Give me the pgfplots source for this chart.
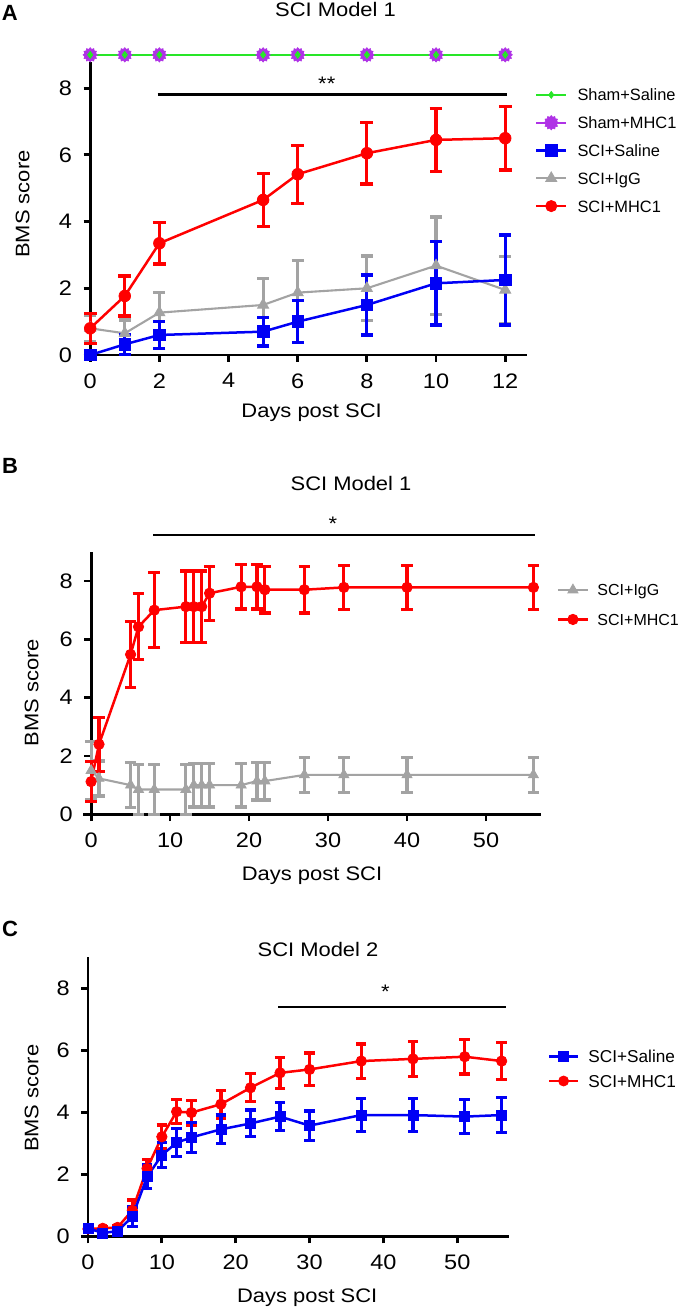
\documentclass[border=0pt]{standalone}
\usepackage{fontspec}
\setmainfont{Liberation Sans}[FakeStretch=1.12]
\newfontfamily\legfont{Liberation Sans}
\newfontfamily\letfont{Liberation Sans}
\usepackage{pgfplots}
\pgfplotsset{compat=1.18}
\usepackage{pgfplotstable}
\usetikzlibrary{plotmarks}

\definecolor{cred}{RGB}{255,0,0}
\definecolor{cblue}{RGB}{0,0,245}
\definecolor{cgray}{RGB}{163,163,163}
\definecolor{cgreen}{RGB}{40,230,40}
\definecolor{cpurple}{RGB}{175,50,230}

\pgfdeclareplotmark{burst}{%
  \pgfpathmoveto{\pgfpointpolar{0}{\pgfplotmarksize}}%
  \foreach \a in {1,...,23}{%
    \pgfmathsetmacro\rr{mod(\a,2)==0 ? 1 : 0.78}%
    \pgfpathlineto{\pgfpointpolar{\a*15}{\rr*\pgfplotmarksize}}%
  }%
  \pgfpathclose\pgfusepathqfillstroke}

% ---------- Panel A data ----------
\pgfplotstableread{
x y e
0 9 0
1 9 0
2 9 0
5 9 0
6 9 0
8 9 0
10 9 0
12 9 0
}\Asham
\pgfplotstableread{
x y e
0 0.80 0.45
1 1.77 0.60
2 3.35 0.62
5 4.65 0.80
6 5.42 0.87
8 6.05 0.92
10 6.45 0.95
12 6.50 0.95
}\Amhc
\pgfplotstableread{
x y e
0 0.00 0.00
1 0.32 0.30
2 0.60 0.40
5 0.70 0.43
6 1.00 0.63
8 1.50 0.90
10 2.15 1.25
12 2.25 1.35
}\Asal
\pgfplotstableread{
x y e
0 0.80 0.40
1 0.65 0.40
2 1.27 0.60
5 1.50 0.80
6 1.87 0.97
8 2.00 0.97
10 2.68 1.46
12 1.95 1.00
}\Aigg
% ---------- Panel B data ----------
\pgfplotstableread{
x y e
0 1.12 0.68
1 2.40 0.93
5 5.48 1.12
6 6.43 1.13
8 7.00 1.28
12 7.12 1.22
13 7.12 1.22
14 7.12 1.22
15 7.58 0.93
19 7.80 0.76
21 7.80 0.76
22 7.70 0.80
27 7.70 0.80
32 7.78 0.76
40 7.78 0.76
56 7.78 0.76
}\Bmhc
\pgfplotstableread{
x y e
0 1.50 1.00
1 1.23 0.60
5 1.00 0.78
6 0.85 0.85
8 0.85 0.85
12 0.85 0.85
13 1.00 0.75
14 1.00 0.75
15 1.00 0.75
19 1.00 0.75
21 1.14 0.65
22 1.14 0.65
27 1.35 0.60
32 1.35 0.60
40 1.35 0.60
56 1.35 0.60
}\Bigg
% ---------- Panel C data ----------
\pgfplotstableread{
x y e
0 0.25 0.05
2 0.27 0.05
4 0.30 0.05
6 0.85 0.33
8 2.20 0.30
10 3.22 0.38
12 4.03 0.38
14 4.00 0.40
18 4.27 0.45
22 4.80 0.45
26 5.28 0.50
30 5.39 0.53
37 5.66 0.55
44 5.73 0.56
51 5.80 0.56
56 5.66 0.60
}\Cmhc
\pgfplotstableread{
x y e
0 0.27 0.05
2 0.12 0.05
4 0.18 0.05
6 0.64 0.32
8 1.93 0.38
10 2.63 0.41
12 3.03 0.45
14 3.20 0.48
18 3.46 0.46
22 3.65 0.43
26 3.87 0.45
30 3.58 0.47
37 3.92 0.54
44 3.92 0.54
51 3.87 0.55
56 3.92 0.56
}\Csal

\pgfplotsset{
  bms/.style={
    scale only axis, anchor=south west,
    axis x line*=bottom, axis y line*=left,
    axis line style={line width=1.4pt, black},
    tick style={line width=1.4pt, black},
    major tick length=3.35pt, tick align=outside,
    ymin=0, clip=false,
    tick label style={font=\fontsize{10.5}{12}\selectfont},
    /pgf/number format/assume math mode=true,
    xticklabel style={yshift=-2.3pt},
    yticklabel style={xshift=-2.3pt},
    legend cell align=left,
  },
  ebar/.style={/pgfplots/error bars/y dir=both, /pgfplots/error bars/y explicit,
    /pgfplots/error bars/error bar style={line width=1.6pt, solid},
    /pgfplots/error bars/error mark=-,
    /pgfplots/error bars/error mark options={rotate=90, line width=1.6pt, mark size=#1, solid}},
  redS/.style={color=cred, line width=1.25pt, mark=*, mark size=#1, mark options={solid, fill=cred, line width=0.4pt}},
  blueS/.style={color=cblue, line width=1.25pt, mark=square*, mark size=#1, mark options={solid, fill=cblue, line width=0.4pt}},
  grayS/.style={color=cgray, line width=1.05pt, mark=triangle*, mark size=#1, mark options={solid, fill=cgray, line width=0.4pt}},
  greenS/.style={color=cgreen, line width=0.9pt, mark=diamond*, mark size=1.7pt, mark options={solid, fill=cgreen, line width=0.4pt}},
  purpS/.style={color=cpurple, line width=0.9pt, mark=burst, mark size=3.6pt, mark options={solid, fill=cpurple, line width=0.3pt}},
}

\newcommand{\mainsize}{\fontsize{9.8}{11}\selectfont}

\begin{document}
\begin{tikzpicture}
\path[use as bounding box] (0pt,0pt) rectangle (338.5pt,-654.5pt);

% ================= Panel A =================
\begin{axis}[bms, at={(45.1pt,-177.5pt)}, width=218.4pt, height=146.75pt,
  xmin=0, xmax=12.63, ymax=8.8,
  xtick={0,2,4,6,8,10,12}, ytick={0,2,4,6,8},
  legend style={at={(1.0183,0.6968)}, anchor=west, draw=none, fill=none,
    inner sep=0pt, outer sep=0pt, row sep=1.8pt, column sep=5pt,
    font=\legfont\fontsize{8.2}{9}\selectfont,
    nodes={inner sep=0pt, text height=9pt, text depth=3.1pt}},
  legend image code/.code={\draw[mark repeat=2,mark phase=2] plot coordinates {(0pt,0pt)(7.5pt,0pt)(15pt,0pt)};}]
\addplot[purpS, forget plot] table[x=x,y=y] {\Asham};
\addplot[greenS, forget plot] table[x=x,y=y] {\Asham};
\addplot[grayS=3.2pt, forget plot, ebar=3pt] table[x=x,y=y,y error=e] {\Aigg};
\addplot[blueS=2.9pt, forget plot, ebar=3pt] table[x=x,y=y,y error=e] {\Asal};
\addplot[redS=2.9pt, forget plot, ebar=3.2pt] table[x=x,y=y,y error=e] {\Amhc};
\addlegendimage{greenS}\addlegendentry{Sham+Saline}
\addlegendimage{purpS}\addlegendentry{Sham+MHC1}
\addlegendimage{blueS=2.9pt}\addlegendentry{SCI+Saline}
\addlegendimage{grayS=3.2pt}\addlegendentry{SCI+IgG}
\addlegendimage{redS=2.8pt}\addlegendentry{SCI+MHC1}
\draw[line width=1.4pt] (axis cs:-0.12,0) -- (axis cs:0,0);
\draw[line width=1.4pt] (axis cs:1.95,7.82) -- (axis cs:12.06,7.82);
\node[anchor=base, font=\mainsize] at (axis cs:6.84,7.92) {**};
\end{axis}

% ================= Panel B =================
\begin{axis}[bms, at={(45.55pt,-407.15pt)}, width=225.1pt, height=131.25pt,
  xmin=0, xmax=57, ymax=9,
  xtick={0,10,20,30,40,50}, ytick={0,2,4,6,8},
  legend style={at={(1.0342,0.7985)}, anchor=west, draw=none, fill=none,
    inner sep=0pt, outer sep=0pt, row sep=2.6pt, column sep=4.15pt,
    font=\legfont\fontsize{8.0}{9}\selectfont,
    nodes={inner sep=0pt, text height=9pt, text depth=3.15pt}},
  legend image code/.code={\draw[mark repeat=2,mark phase=2] plot coordinates {(0pt,0pt)(7.5pt,0pt)(15pt,0pt)};}]
\addplot[grayS=2.9pt, ebar=2.9pt] table[x=x,y=y,y error=e] {\Bigg};
\addlegendentry{SCI+IgG}
\addplot[redS=2.6pt, ebar=2.9pt] table[x=x,y=y,y error=e] {\Bmhc};
\addlegendentry{SCI+MHC1}
\draw[line width=1.4pt] (axis cs:-0.97,0) -- (axis cs:0,0);
\draw[line width=1.4pt] (axis cs:7.85,9.575) -- (axis cs:56.2,9.575);
\node[anchor=base, font=\mainsize] at (axis cs:30.6,9.73) {*};
\end{axis}

% ================= Panel C =================
\begin{axis}[bms, at={(44pt,-618.35pt)}, width=210.5pt, height=139.65pt,
  xmin=0, xmax=57, ymax=9,
  xtick={0,10,20,30,40,50}, ytick={0,2,4,6,8},
  legend style={at={(1.0926,0.601)}, anchor=west, draw=none, fill=none,
    inner sep=0pt, outer sep=0pt, row sep=0.31pt, column sep=4.65pt,
    font=\legfont\fontsize{8.6}{9}\selectfont,
    nodes={inner sep=0pt, text height=9pt, text depth=2.84pt}},
  legend image code/.code={\draw[mark repeat=2,mark phase=2] plot coordinates {(0pt,0pt)(7.18pt,0pt)(14.35pt,0pt)};}]
\addplot[redS=2.6pt, forget plot, ebar=2.6pt] table[x=x,y=y,y error=e] {\Cmhc};
\addplot[blueS=2.5pt, forget plot, ebar=2.6pt] table[x=x,y=y,y error=e] {\Csal};
\addlegendimage{blueS=2.5pt}\addlegendentry{SCI+Saline}
\addlegendimage{redS=2.5pt}\addlegendentry{SCI+MHC1}
\draw[line width=1.4pt] (axis cs:-0.93,0) -- (axis cs:0,0);
\draw[line width=1.4pt] (axis cs:25.75,7.4) -- (axis cs:56.6,7.4);
\node[anchor=base, font=\mainsize] at (axis cs:40.26,7.67) {*};
\end{axis}

% ================= Texts =================
\node[anchor=base west, inner sep=0pt, font=\letfont\bfseries\fontsize{11}{13}\selectfont] at (0.8pt,-10.35pt) {A};
\node[anchor=base west, inner sep=0pt, font=\letfont\bfseries\fontsize{11}{13}\selectfont] at (0.9pt,-236.65pt) {B};
\node[anchor=base west, inner sep=0pt, font=\letfont\bfseries\fontsize{11}{13}\selectfont] at (0.9pt,-468.35pt) {C};

\node[anchor=base, font=\mainsize] at (167.75pt,-8.35pt) {SCI Model 1};
\node[anchor=base, font=\mainsize] at (175.5pt,-245pt) {SCI Model 1};
\node[anchor=base, font=\mainsize] at (159pt,-478.35pt) {SCI Model 2};

\node[anchor=base, font=\mainsize] at (155.8pt,-208.65pt) {Days post SCI};
\node[anchor=base, font=\mainsize] at (156pt,-440.35pt) {Days post SCI};
\node[anchor=base, font=\mainsize] at (153.6pt,-651.15pt) {Days post SCI};

\node[anchor=base, rotate=90, font=\mainsize] at (14.65pt,-102pt) {BMS score};
\node[anchor=base, rotate=90, font=\mainsize] at (19.15pt,-346.25pt) {BMS score};
\node[anchor=base, rotate=90, font=\mainsize] at (19.15pt,-549.15pt) {BMS score};
\end{tikzpicture}
\end{document}
